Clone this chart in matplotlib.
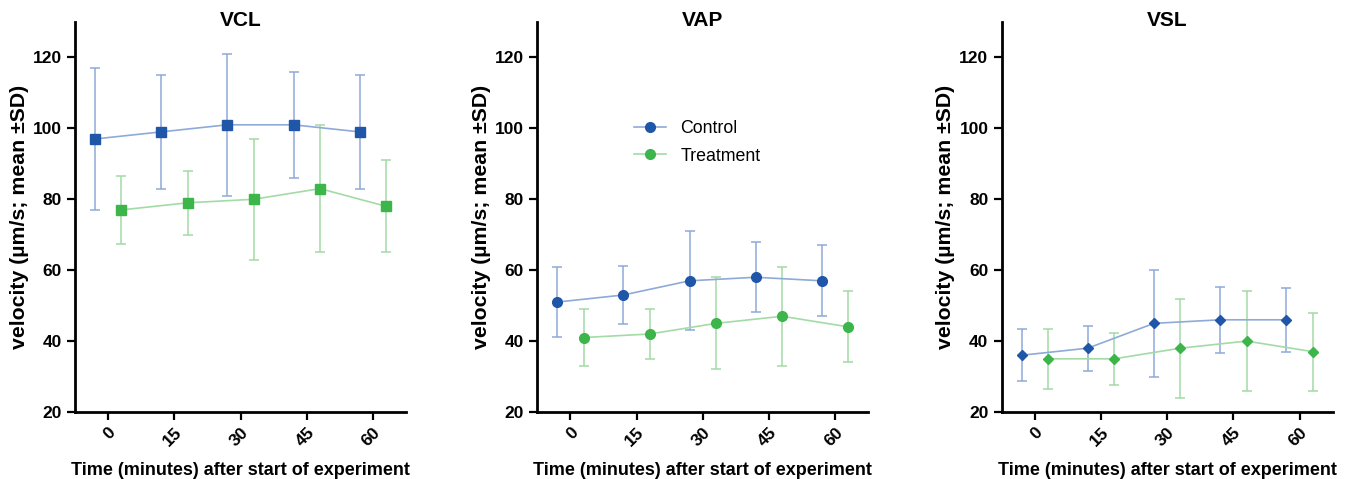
import numpy as np
import matplotlib.pyplot as plt

plt.rcParams['font.family'] = ['Liberation Sans', 'DejaVu Sans']

# Data
times = [0, 15, 30, 45, 60]
panels = ['VCL', 'VAP', 'VSL']
markers = ['s', 'o', 'D']

control_mean = {
    'VCL': [97, 99, 101, 101, 99],
    'VAP': [51, 53, 57, 58, 57],
    'VSL': [36, 38, 45, 46, 46],
}
control_sd = {
    'VCL': [20, 16, 20, 15, 16],
    'VAP': [9.8, 8.2, 14, 9.9, 10],
    'VSL': [7.3, 6.3, 15, 9.3, 9],
}
treatment_mean = {
    'VCL': [77, 79, 80, 83, 78],
    'VAP': [41, 42, 45, 47, 44],
    'VSL': [35, 35, 38, 40, 37],
}
treatment_sd = {
    'VCL': [9.7, 9, 17, 18, 13],
    'VAP': [8, 7, 13, 14, 10],
    'VSL': [8.5, 7.3, 14, 14, 11],
}

ctrl_dark, ctrl_light = '#1f56a8', '#8eaad8'
trt_dark, trt_light = '#3cb54a', '#a3dba6'

fig = plt.figure(figsize=(13.54, 4.79), dpi=100)
lefts = [0.0554, 0.3968, 0.7398]

for i, name in enumerate(panels):
    ax = fig.add_axes([lefts[i], 0.1399, 0.2445, 0.8142])
    t = np.array(times)
    for mean, sd, dx, dark, light, lab in [
        (control_mean, control_sd, -3, ctrl_dark, ctrl_light, 'Control'),
        (treatment_mean, treatment_sd, 3, trt_dark, trt_light, 'Treatment'),
    ]:
        ax.errorbar(t + dx, mean[name], yerr=sd[name], fmt='none',
                    ecolor=light, elinewidth=1.1, capsize=3.5, capthick=1.1, zorder=2)
        ax.plot(t + dx, mean[name], color=light, lw=1.2, zorder=3)
        ms = 7 if markers[i] != 'D' else 5.5
        ax.plot(t + dx, mean[name], linestyle='none', marker=markers[i],
                ms=ms, color=dark, zorder=4)
        if i == 1:
            ax.plot([], [], color=light, lw=1.2, marker='o', ms=7,
                    mfc=dark, mec=dark, label=lab)

    ax.set_xlim(-7.5, 67.5)
    ax.set_ylim(20, 130)
    ax.set_yticks([20, 40, 60, 80, 100, 120])
    ax.set_xticks(times)
    ax.set_xticklabels([str(v) for v in times], rotation=45, ha='right',
                       rotation_mode='anchor')
    for s in ['top', 'right']:
        ax.spines[s].set_visible(False)
    for s in ['left', 'bottom']:
        ax.spines[s].set_linewidth(2)
    ax.tick_params(width=1.6, length=6, labelsize=12.5)
    for lbl in ax.get_xticklabels() + ax.get_yticklabels():
        lbl.set_fontweight('bold')
    ax.set_title(name, fontsize=15, fontweight='bold', y=0.99, pad=0,
                 va='baseline')
    ax.set_xlabel('Time (minutes) after start of experiment', fontsize=13,
                  fontweight='bold', labelpad=9)
    ax.set_ylabel('velocity (µm/s; mean ±SD)', fontsize=15.3, fontweight='bold',
                  labelpad=3)
    if i == 1:
        ax.legend(loc='upper left', bbox_to_anchor=(0.245, 0.79), frameon=False,
                  fontsize=12.8, handlelength=1.8, labelspacing=0.6)

plt.savefig('out.png', dpi=100)
